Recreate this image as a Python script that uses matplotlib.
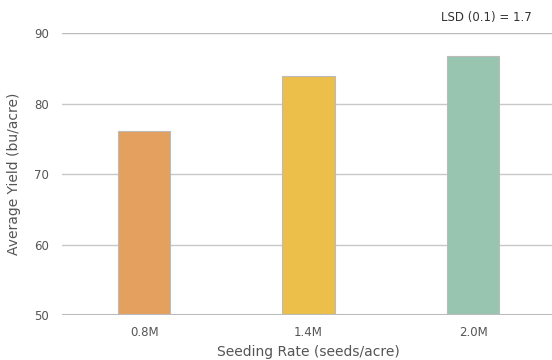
import matplotlib
matplotlib.use("Agg")
import matplotlib.pyplot as plt

# data
rates = ["0.8M", "1.4M", "2.0M"]
yields = [76.1, 83.9, 86.7]
colores = ["#E3A05F", "#EBBF4A", "#97C5B0"]
lsd_text = "LSD (0.1) = 1.7"

fig = plt.figure(figsize=(5.52, 3.60), dpi=100)
ax = fig.add_axes([0.112, 0.125, 0.894, 0.783])

x = list(range(len(rates)))
ax.bar(x, [v - 50 for v in yields], bottom=50, width=0.32, color=colores,
       edgecolor="#BBBBBB", linewidth=0.8, zorder=3)

ax.set_xlim(-0.5, 2.5)
ax.set_ylim(50, 90)
ax.set_yticks([50, 60, 70, 80, 90])
ax.set_xticks(x)
ax.set_xticklabels(rates)

# lineas de grilla
ax.yaxis.grid(True, color="#C8C8C8", linewidth=1.0, zorder=0)
ax.axhline(50, color="#BBBBBB", linewidth=1.5, zorder=4)
ax.axhline(90, color="#BBBBBB", linewidth=1.5, zorder=4)
for s in ax.spines.values():
    s.set_visible(False)
ax.tick_params(axis="both", length=0, colors="#555555", labelsize=8.5)
ax.tick_params(axis="x", pad=8)
ax.tick_params(axis="y", pad=9)

ax.set_xlabel("Seeding Rate (seeds/acre)", fontsize=10, color="#555555", labelpad=4)
ax.set_ylabel("Average Yield (bu/acre)", fontsize=10, color="#555555", labelpad=10)

fig.text(0.963, 0.952, lsd_text, ha="right", va="center", fontsize=8.5, color="#333333")

fig.savefig("out.png", dpi=100)
